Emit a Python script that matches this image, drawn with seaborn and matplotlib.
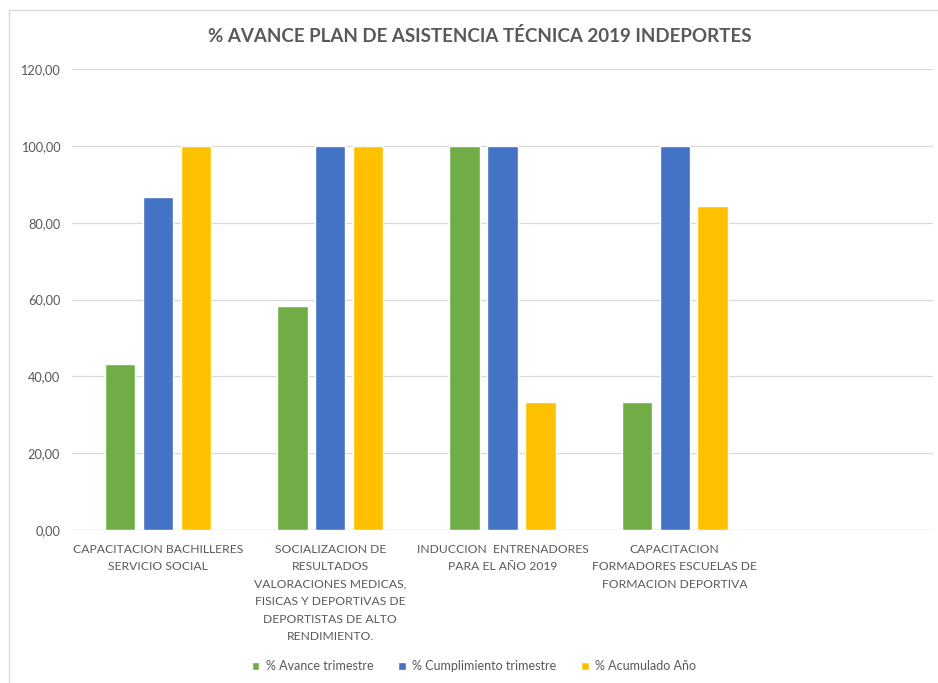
import matplotlib
matplotlib.use("Agg")
import matplotlib.pyplot as plt
from matplotlib.patches import Rectangle
from matplotlib.ticker import FuncFormatter
import seaborn as sns
import pandas as pd

# Activities and their progress percentages
categories = [
    "CAPACITACION BACHILLERES\nSERVICIO SOCIAL",
    "SOCIALIZACION DE\nRESULTADOS\nVALORACIONES MEDICAS,\nFISICAS Y DEPORTIVAS DE\nDEPORTISTAS DE ALTO\nRENDIMIENTO.",
    "INDUCCION  ENTRENADORES\nPARA EL AÑO 2019",
    "CAPACITACION\nFORMADORES ESCUELAS DE\nFORMACION DEPORTIVA",
]
series_names = ["% Avance trimestre", "% Cumplimiento trimestre", "% Acumulado Año"]
avance_trimestre = [43.33, 58.33, 100.0, 33.33]
cumplimiento_trimestre = [86.67, 100.0, 100.0, 100.0]
acumulado_anio = [100.0, 100.0, 33.33, 84.44]
y_ticks = [0, 20, 40, 60, 80, 100, 120]
colors = ["#70AD47", "#4472C4", "#FFC000"]

rows = []
for name, vals in zip(series_names, [avance_trimestre, cumplimiento_trimestre, acumulado_anio]):
    for cat, v in zip(categories, vals):
        rows.append({"Actividad": cat, "Serie": name, "Valor": v})
df = pd.DataFrame(rows)

sns.set_theme(style="white")
plt.rcParams["font.family"] = ["Lato", "DejaVu Sans"]

W, H = 938, 683
fig = plt.figure(figsize=(W / 100, H / 100), dpi=100)
fig.patch.set_facecolor("white")

ax = fig.add_axes([72 / W, (H - 530) / H, 861 / W, (530 - 69) / H])
sns.barplot(
    data=df, x="Actividad", y="Valor", hue="Serie",
    order=categories, hue_order=series_names, palette=colors,
    width=0.66, gap=0.2, saturation=1, errorbar=None, ax=ax,
)

ax.set_xlim(-0.5, 4.5)
ax.set_ylim(0, 120)
ax.set_yticks(y_ticks)
ax.yaxis.set_major_formatter(FuncFormatter(lambda v, p: f"{v:.2f}".replace(".", ",")))
ax.grid(axis="y", color="#D9D9D9", linewidth=0.9)
ax.set_axisbelow(True)
for s in ax.spines.values():
    s.set_visible(False)
ax.axhline(0, color="#D9D9D9", linewidth=1.0, zorder=0.5)

ax.set_xlabel("")
ax.set_ylabel("")
ax.tick_params(axis="y", length=0, pad=8.5, labelsize=9.2, labelcolor="#595959")
ax.tick_params(axis="x", length=0, pad=10, labelsize=8.7, labelcolor="#595959")
for lbl in ax.get_xticklabels():
    lbl.set_multialignment("center")
    lbl.set_linespacing(1.72)

ax.legend_.remove()
handles, labels = ax.get_legend_handles_labels()
fig.legend(
    handles, labels, loc="center", bbox_to_anchor=(474 / W, 1 - 666 / H),
    ncol=3, frameon=False, fontsize=9, labelcolor="#595959",
    handlelength=0.6, handleheight=0.6, handletextpad=0.5, columnspacing=2.0,
)

fig.text(480 / W, 1 - 36 / H, "% AVANCE PLAN DE ASISTENCIA TÉCNICA 2019 INDEPORTES",
         ha="center", va="center", fontsize=13.5, fontweight="bold", color="#595959")

# Chart-area border
fig.patches.append(Rectangle((9 / W, -0.1), 1.0, (H - 10) / H + 0.1,
                             transform=fig.transFigure, fill=False,
                             edgecolor="#D9D9D9", linewidth=1.0))

fig.savefig("out.png", dpi=100)
